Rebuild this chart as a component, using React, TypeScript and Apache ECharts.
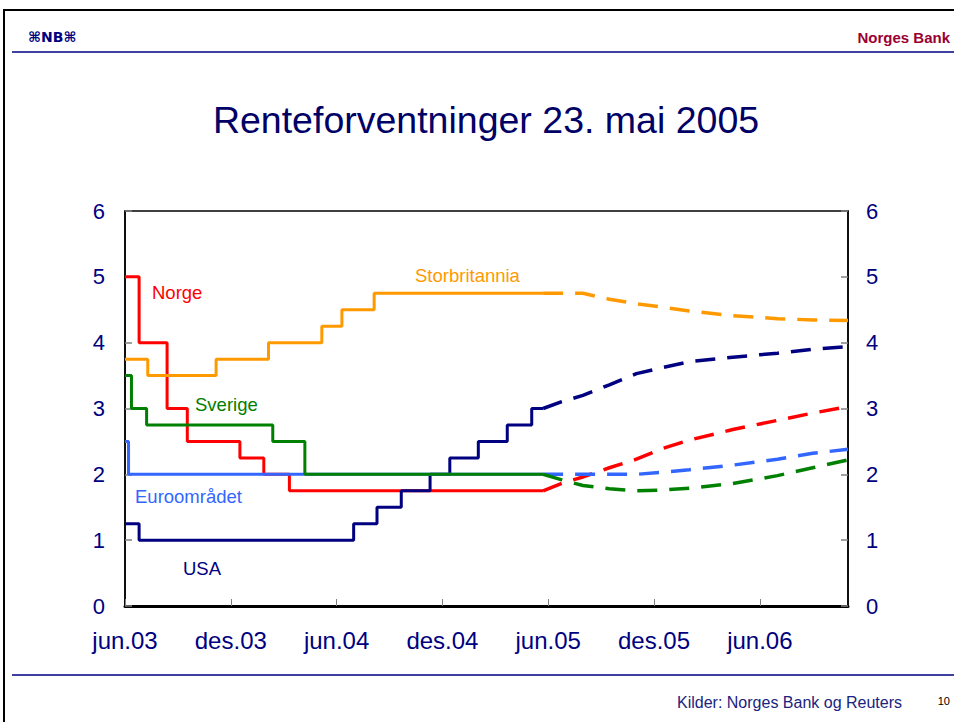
import React, { useEffect, useRef } from "react";
import * as echarts from "echarts";

// Historical policy rates (date of change, new rate)
const norgeHist: [string, number][] = [
  ["2003-06-01", 5.0], ["2003-06-25", 4.0], ["2003-08-13", 3.0], ["2003-09-17", 2.5],
  ["2003-12-17", 2.25], ["2004-01-28", 2.0], ["2004-03-11", 1.75], ["2005-05-23", 1.75],
];
const sverigeHist: [string, number][] = [
  ["2003-06-01", 3.5], ["2003-06-12", 3.0], ["2003-07-08", 2.75], ["2004-02-12", 2.5],
  ["2004-04-07", 2.0], ["2005-05-23", 2.0],
];
const euroHist: [string, number][] = [
  ["2003-06-01", 2.5], ["2003-06-07", 2.0], ["2005-05-23", 2.0],
];
const usaHist: [string, number][] = [
  ["2003-06-01", 1.25], ["2003-06-25", 1.0], ["2004-06-30", 1.25], ["2004-08-10", 1.5],
  ["2004-09-21", 1.75], ["2004-11-10", 2.0], ["2004-12-14", 2.25], ["2005-02-02", 2.5],
  ["2005-03-22", 2.75], ["2005-05-03", 3.0], ["2005-05-23", 3.0],
];
const ukHist: [string, number][] = [
  ["2003-06-01", 3.75], ["2003-07-10", 3.5], ["2003-11-06", 3.75], ["2004-02-05", 4.0],
  ["2004-05-06", 4.25], ["2004-06-10", 4.5], ["2004-08-05", 4.75], ["2005-05-23", 4.75],
];

// Forecast (market expectations) dates and values
const forecastDates = [
  "2005-05-23", "2005-06-23", "2005-07-31", "2005-09-15", "2005-11-01", "2005-12-15",
  "2006-02-01", "2006-04-15", "2006-07-01", "2006-09-01", "2006-11-01",
];
const norgeFc = [1.75, 1.86, 1.96, 2.10, 2.23, 2.39, 2.52, 2.68, 2.82, 2.93, 3.03];
const sverigeFc = [2.0, 1.92, 1.83, 1.78, 1.75, 1.76, 1.79, 1.86, 1.98, 2.10, 2.22];
const euroFc = [2.0, 2.0, 2.0, 2.0, 2.0, 2.03, 2.07, 2.14, 2.23, 2.32, 2.38];
const usaFc = [3.0, 3.10, 3.20, 3.36, 3.53, 3.62, 3.71, 3.78, 3.84, 3.90, 3.94];
const ukFc = [4.75, 4.75, 4.75, 4.66, 4.59, 4.54, 4.48, 4.41, 4.365, 4.345, 4.335];

const xTickLabels = ["jun.03", "des.03", "jun.04", "des.04", "jun.05", "des.05", "jun.06"];
const yTicks = [0, 1, 2, 3, 4, 5, 6];

const FONT = "'Liberation Sans', Arial, sans-serif";
const NAVY = "#000080";

function toMonth(s: string): number {
  const [y, m, d] = s.split("-").map(Number);
  const dim = new Date(y, m, 0).getDate();
  return (y - 2003) * 12 + (m - 6) + (d - 1) / dim;
}

export default function App() {
  const ref = useRef<HTMLDivElement>(null);
  useEffect(() => {
    document.body.style.margin = "0";
    if (!ref.current) return;
    const chart = echarts.init(ref.current, undefined, { renderer: "svg" });

    const hist = (name: string, data: [string, number][], color: string, z: number) => ({
      name,
      type: "line",
      step: "end",
      symbol: "none",
      z,
      data: data.map(([d, v]) => [toMonth(d), v]),
      lineStyle: { color, width: 3 },
    });
    const fc = (name: string, vals: number[], color: string, z: number) => ({
      name: name + " fc",
      type: "line",
      symbol: "none",
      z,
      data: forecastDates.map((d, i) => [toMonth(d), vals[i]]),
      lineStyle: { color, width: 3.5, type: [20, 12], cap: "butt" },
    });

    const label = (text: string, x: number, y: number, color: string) => ({
      type: "text",
      x,
      y,
      style: { text, fill: color, font: `18.5px ${FONT}`, textVerticalAlign: "middle" },
    });

    chart.setOption({
      animation: false,
      grid: {
        left: 125, right: 106, top: 211, bottom: 116,
        show: true, borderColor: "#000", borderWidth: 1.5, backgroundColor: "transparent",
      },
      xAxis: {
        type: "value",
        min: 0,
        max: 41,
        interval: 6,
        axisLine: { show: true, lineStyle: { color: "#000", width: 3 } },
        axisTick: { show: true, inside: true, length: 7, lineStyle: { color: "#808080", width: 1 } },
        axisLabel: {
          show: true,
          margin: 22,
          color: NAVY,
          fontSize: 24,
          fontFamily: FONT,
          showMaxLabel: false,
          formatter: (v: number) => (v % 6 === 0 && xTickLabels[v / 6] ? xTickLabels[v / 6] : ""),
        },
        splitLine: { show: false },
      },
      yAxis: [
        {
          type: "value", min: yTicks[0], max: yTicks[yTicks.length - 1], interval: 1, position: "left",
          axisLine: { show: true, lineStyle: { color: "#000", width: 1.5 } },
          axisTick: { show: true, inside: true, length: 7, lineStyle: { color: "#808080", width: 1.5 } },
          axisLabel: { margin: 20, color: NAVY, fontSize: 22, fontFamily: FONT },
          splitLine: { show: false },
        },
        {
          type: "value", min: yTicks[0], max: yTicks[yTicks.length - 1], interval: 1, position: "right",
          axisLine: { show: true, lineStyle: { color: "#000", width: 1.5 } },
          axisTick: { show: true, inside: true, length: 7, lineStyle: { color: "#808080", width: 1.5 } },
          axisLabel: { margin: 18, color: NAVY, fontSize: 22, fontFamily: FONT },
          splitLine: { show: false },
        },
      ],
      series: [
        hist("Norge", norgeHist, "#FF0000", 2),
        hist("USA", usaHist, NAVY, 3),
        hist("Euroområdet", euroHist, "#3366FF", 4),
        hist("Sverige", sverigeHist, "#008000", 5),
        hist("Storbritannia", ukHist, "#FF9900", 6),
        fc("Norge", norgeFc, "#FF0000", 2),
        fc("USA", usaFc, NAVY, 3),
        fc("Euroområdet", euroFc, "#3366FF", 4),
        fc("Sverige", sverigeFc, "#008000", 5),
        fc("Storbritannia", ukFc, "#FF9900", 6),
      ],
      graphic: [
        {
          type: "rect", silent: true,
          shape: { x: 4, y: 10, width: 1000, height: 800 },
          style: { fill: "none", stroke: "#000", lineWidth: 2 },
        },
        { type: "line", shape: { x1: 12, y1: 52, x2: 954, y2: 52 }, style: { stroke: NAVY, lineWidth: 1.5 } },
        { type: "line", shape: { x1: 12, y1: 675, x2: 954, y2: 675 }, style: { stroke: NAVY, lineWidth: 1.5 } },
        {
          type: "text", x: 28, y: 37,
          style: { text: "⌘NB⌘", fill: NAVY, font: `bold 14px 'DejaVu Sans', ${FONT}`, textVerticalAlign: "middle" },
        },
        {
          type: "text", x: 950, y: 37,
          style: { text: "Norges Bank", fill: "#990033", font: `bold 15px ${FONT}`, textAlign: "right", textVerticalAlign: "middle" },
        },
        {
          type: "text", x: 486, y: 120,
          style: { text: "Renteforventninger 23. mai 2005", fill: "#000066", font: `37.5px ${FONT}`, textAlign: "center", textVerticalAlign: "middle" },
        },
        {
          type: "text", x: 902, y: 702,
          style: { text: "Kilder: Norges Bank og Reuters", fill: "#1a237e", font: `16px ${FONT}`, textAlign: "right", textVerticalAlign: "middle" },
        },
        {
          type: "text", x: 950, y: 701,
          style: { text: "10", fill: "#000", font: `11px ${FONT}`, textAlign: "right", textVerticalAlign: "middle" },
        },
        label("Norge", 152, 292, "#FF0000"),
        label("Storbritannia", 415, 275, "#FF9900"),
        label("Sverige", 195, 404, "#008000"),
        label("Euroområdet", 135, 496, "#3366FF"),
        label("USA", 183, 568, NAVY),
      ],
    });
    return () => chart.dispose();
  }, []);
  return <div ref={ref} style={{ width: 954, height: 722 }} />;
}
